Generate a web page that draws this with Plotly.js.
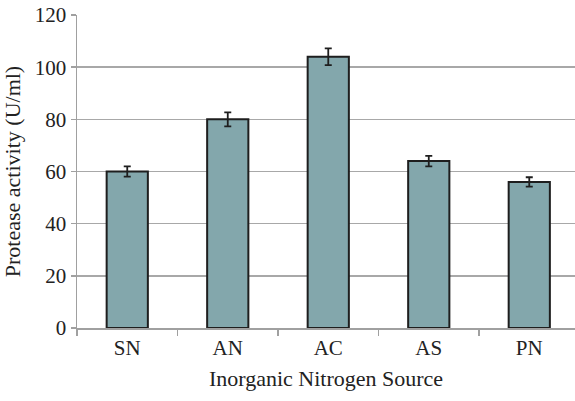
<!DOCTYPE html>
<html>
<head>
<meta charset="utf-8">
<script src="https://cdn.plot.ly/plotly-3.0.1.min.js"></script>
<style>html,body{margin:0;padding:0;background:#fff;}#chart{width:575px;height:401px;}</style>
</head>
<body>
<div id="chart"></div>
<script>
const categories = ["SN", "AN", "AC", "AS", "PN"];
const activity = [60, 80, 104, 64, 56];
const errors = [2, 2.7, 3.2, 2, 1.8];
const yTicks = [0, 20, 40, 60, 80, 100, 120];

const serif = "Liberation Serif, Times New Roman, serif";
const trace = {
  type: "bar",
  x: categories,
  y: activity,
  width: 0.41,
  marker: {color: "#83a7ac", line: {color: "#1e1e1e", width: 2}},
  error_y: {type: "data", array: errors, visible: true, color: "#1e1e1e", thickness: 1.8, width: 3.5},
  hoverinfo: "none"
};
const layout = {
  width: 575, height: 401,
  margin: {l: 77, r: 0, t: 15, b: 73},
  paper_bgcolor: "#fff", plot_bgcolor: "#fff",
  showlegend: false,
  xaxis: {
    type: "category",
    range: [-0.5, 4.455],
    showgrid: false,
    showline: true, linecolor: "#a0a0a0", linewidth: 1.5,
    ticks: "outside", ticklen: 6, tickcolor: "#a0a0a0", tickwidth: 1.5,
    tickson: "boundaries",
    tickfont: {family: serif, size: 21, color: "#222"},
    title: {text: "Inorganic Nitrogen Source", font: {family: serif, size: 22, color: "#222"}, standoff: 12}
  },
  yaxis: {
    range: [0, 120],
    tickvals: yTicks,
    showgrid: true, gridcolor: "#a8a8a8", gridwidth: 1.5,
    showline: true, linecolor: "#a0a0a0", linewidth: 1.5,
    ticks: "outside", ticklen: 5, tickcolor: "#a0a0a0", tickwidth: 1.5,
    tickfont: {family: serif, size: 21, color: "#222"},
    zeroline: false,
    title: {text: "Protease activity (U/ml)", font: {family: serif, size: 22, color: "#222"}, standoff: 8}
  }
};
Plotly.newPlot("chart", [trace], layout, {displayModeBar: false, staticPlot: true});
</script>
</body>
</html>
